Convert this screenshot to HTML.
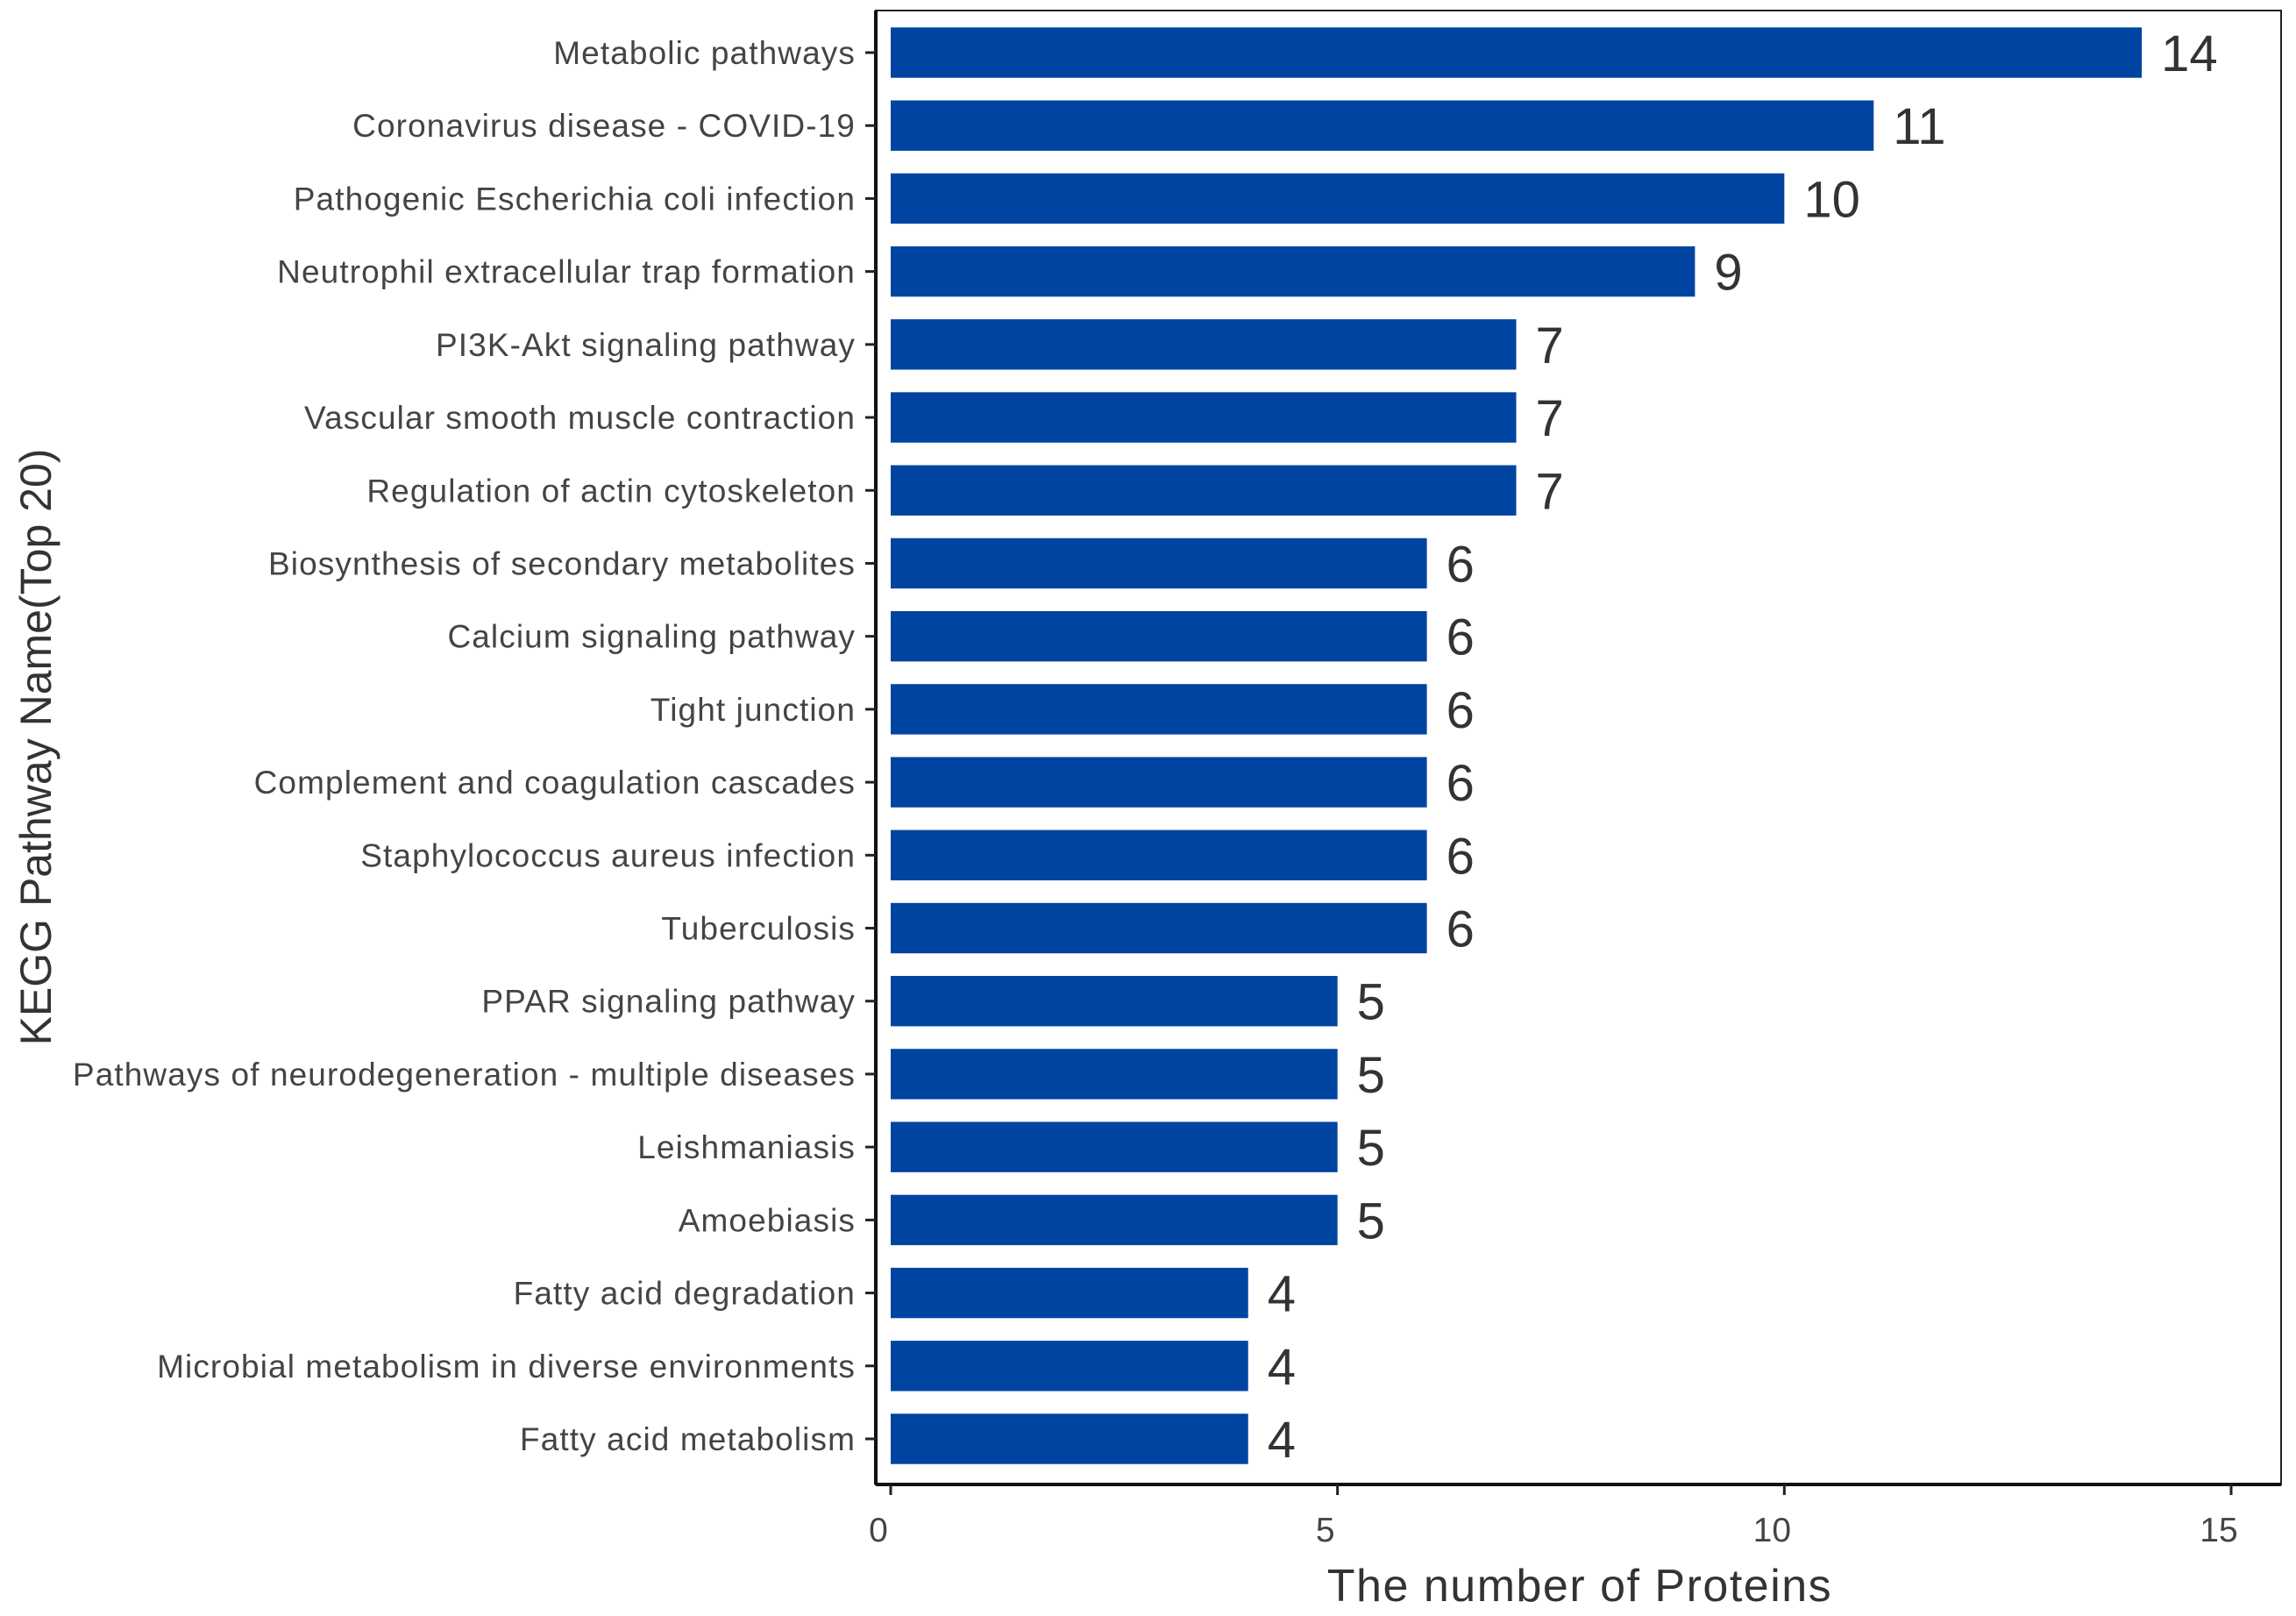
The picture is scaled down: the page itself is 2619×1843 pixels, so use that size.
<!DOCTYPE html>
<html><head><meta charset="utf-8"><style>
html,body{margin:0;padding:0;background:#fff;}
svg{display:block;font-family:"Liberation Sans",Arial,sans-serif;}
</style></head><body>
<svg id="chart" width="2619" height="1843" viewBox="0 0 2619 1843" xmlns="http://www.w3.org/2000/svg">
<g id="plot"></g>
</svg>
<script>
const categories = ["Metabolic pathways","Coronavirus disease - COVID-19","Pathogenic Escherichia coli infection","Neutrophil extracellular trap formation","PI3K-Akt signaling pathway","Vascular smooth muscle contraction","Regulation of actin cytoskeleton","Biosynthesis of secondary metabolites","Calcium signaling pathway","Tight junction","Complement and coagulation cascades","Staphylococcus aureus infection","Tuberculosis","PPAR signaling pathway","Pathways of neurodegeneration - multiple diseases","Leishmaniasis","Amoebiasis","Fatty acid degradation","Microbial metabolism in diverse environments","Fatty acid metabolism"];
const values = [14,11,10,9,7,7,7,6,6,6,6,6,6,5,5,5,5,4,4,4];
const xTicks = [0,5,10,15];

const NS="http://www.w3.org/2000/svg";
const g=document.getElementById('plot');
const L=999,R=2602,T=12,B=1693;
const x0=1016, unit=(2545-1016)/15;
const xs=v=>x0+v*unit;
const step=(1641-60)/19;
const ys=i=>60+i*step;
const bh=step*0.69;
function mk(t,a,txt){const e=document.createElementNS(NS,t);for(const k in a)e.setAttribute(k,a[k]);if(txt!==undefined)e.textContent=txt;g.appendChild(e);return e;}

let e=mk('rect',{x:L,y:T,width:R-L,height:B-T,fill:'none',stroke:'#222','stroke-width':2});


e=mk('line',{x1:L,y1:B,x2:R,y2:B,stroke:'#111','stroke-width':4});


e=mk('line',{x1:L,y1:T,x2:L,y2:B,stroke:'#111','stroke-width':4});



categories.forEach((c,i)=>{
  const y=ys(i);
  let r=mk('rect',{x:xs(0),y:y-bh/2,width:xs(values[i])-xs(0),height:bh,fill:'#0044a2'});
  
  
  let t=mk('text',{x:976,y:y+13,'text-anchor':'end','font-size':37,'letter-spacing':1.1,fill:'#444'},c);
  
  
  let tk=mk('line',{x1:987,y1:y,x2:999,y2:y,stroke:'#222','stroke-width':3});
  
  
  let v=mk('text',{x:xs(values[i])+22,y:y+21,'font-size':58,fill:'#333'},String(values[i]));
  
  
});
xTicks.forEach(v=>{
  let tk=mk('line',{x1:xs(v),y1:B,x2:xs(v),y2:B+12,stroke:'#222','stroke-width':3});
  
  
  let t=mk('text',{x:xs(v)-14,y:1758,'text-anchor':'middle','font-size':39,fill:'#444'},String(v));
  
  
});
e=mk('text',{x:1802,y:1826,'text-anchor':'middle','font-size':52,'letter-spacing':1.5,fill:'#333'},'The number of Proteins');


e=mk('text',{x:0,y:0,'text-anchor':'middle','font-size':50,fill:'#333',transform:'translate(58,852) rotate(-90)'},'KEGG Pathway Name(Top 20)');


</script>
</body></html>
